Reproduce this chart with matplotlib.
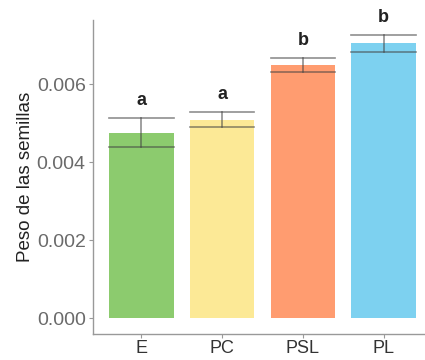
import matplotlib
matplotlib.use("Agg")
import matplotlib.pyplot as plt
import numpy as np

plt.rcParams['font.family'] = ['Liberation Sans', 'DejaVu Sans']

groups = ["E", "PC", "PSL", "PL"]
means = [0.00476, 0.00509, 0.00649, 0.00705]
errs = [0.00038, 0.00019, 0.00018, 0.00022]
letters = ["a", "a", "b", "b"]
colors = ["#8ccb6e", "#fce996", "#ff9c70", "#7dd1f0"]

fig = plt.figure(figsize=(4.25, 3.6), dpi=100)
ax = fig.add_axes([0.218, 0.072, 0.782, 0.872])

x = np.arange(1, len(groups) + 1)
ax.bar(x, means, width=0.8, color=colors, zorder=2)

# error bars: caps as wide as the bars
for xi, m, e in zip(x, means, errs):
    ax.plot([xi, xi], [m - e, m + e], color="#444444", alpha=0.6, lw=1.2, zorder=3)
    ax.plot([xi - 0.4, xi + 0.4], [m + e, m + e], color="#444444", alpha=0.6, lw=1.2, zorder=3)
    ax.plot([xi - 0.4, xi + 0.4], [m - e, m - e], color="#444444", alpha=0.6, lw=1.2, zorder=3)

for xi, m, e, t in zip(x, means, errs, letters):
    ax.text(xi, m + e + 0.00045, t, ha="center", va="center", fontsize=13,
            color="#222222", fontweight="bold")

ax.set_xlim(0.4, 4.51)
ax.set_ylim(-0.0004, 0.00764)
ax.set_yticks([0, 0.002, 0.004, 0.006])
ax.set_yticklabels(["0.000", "0.002", "0.004", "0.006"])
ax.set_xticks(x)
ax.set_xticklabels(groups)

for s in ["top", "right"]:
    ax.spines[s].set_visible(False)
for s in ["left", "bottom"]:
    ax.spines[s].set_color("#999999")
    ax.spines[s].set_linewidth(1.0)

ax.tick_params(axis="y", labelsize=14, colors="#999999", labelcolor="#6a6a6a",
               length=3, pad=2)
ax.tick_params(axis="x", labelsize=13, colors="#999999", labelcolor="#333333",
               length=3, pad=1)
ax.set_ylabel("Peso de las semillas", fontsize=13.5, color="#222222", labelpad=2)

fig.savefig("out.png", dpi=100)
